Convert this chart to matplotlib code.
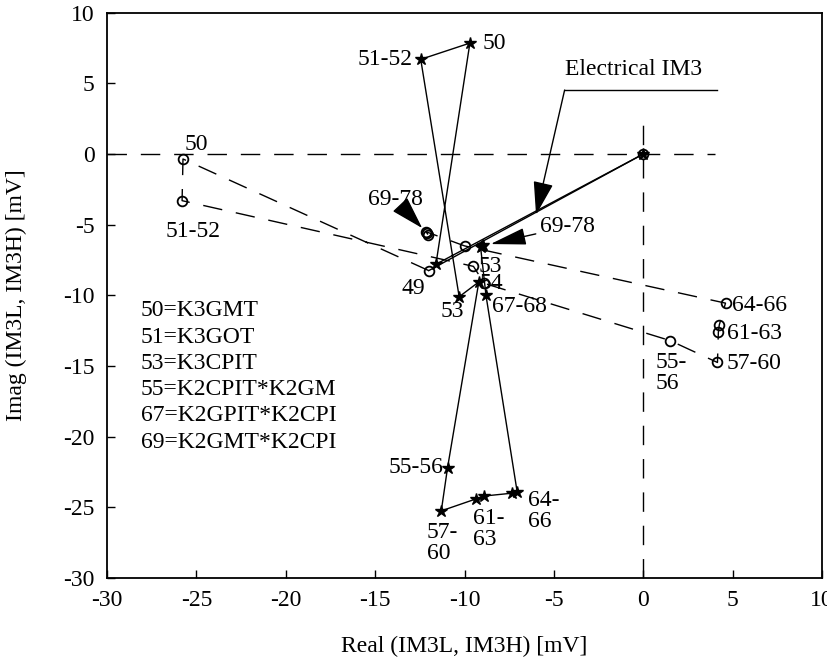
import matplotlib
matplotlib.use("Agg")
import matplotlib.pyplot as plt

plt.rcParams['font.family'] = ['Liberation Serif', 'DejaVu Serif']
plt.rcParams['font.size'] = 17
plt.rcParams['axes.unicode_minus'] = False

# cumulative IM3 vectors [mV], starting at the origin
# star (solid) and circle (dashed) series
star_x = [0.0, -11.6, -9.7, -12.45, -10.3, -9.2, -10.95, -11.3, -9.35, -8.9, -7.35, -7.05, -8.8, -9.1, -9.0, -8.95]
star_y = [0.0, -7.8, 7.85, 6.7, -10.1, -9.05, -22.2, -25.25, -24.4, -24.2, -24.0, -23.95, -10.0, -6.6, -6.5, -6.45]
circ_x = [0.0, -12.0, -25.75, -25.8, -9.5, -8.9, 1.5, 4.15, 4.2, 4.25, 4.6, -10.0, -12.15, -12.1, -12.05]
circ_y = [0.0, -8.25, -0.35, -3.3, -7.95, -9.15, -13.2, -14.75, -12.6, -12.1, -10.55, -6.5, -5.5, -5.6, -5.7]

legend_lines = ["50=K3GMT", "51=K3GOT", "53=K3CPIT", "55=K2CPIT*K2GM",
                "67=K2GPIT*K2CPI", "69=K2GMT*K2CPI"]

# point labels: (index, text, dx px, dy px (down), ha, va)
star_labels = [
    (1, "49", -22.5, 24.3, 'center', 'center'),
    (2, "50", 13, 0, 'left', 'center'),
    (3, "51-52", -8, 0, 'right', 'center'),
    (4, "53", -6.7, 15, 'center', 'center'),
    (6, "55-56", -4.6, 0, 'right', 'center'),
    (7, "57-\n60", -14.4, 11.2, 'left', 'top'),
    (8, "61-\n63", -3.2, 9.2, 'left', 'top'),
    (11, "64-\n66", 10.7, -2.4, 'left', 'top'),
    (12, "67-68", 6, 10.7, 'left', 'center'),
]
circ_labels = [
    (2, "50", 13, -14.4, 'center', 'center'),
    (3, "51-52", 11.2, 31, 'center', 'center'),
    (4, "53", 16.5, 0, 'center', 'center'),
    (5, "54", 6.7, 0, 'center', 'center'),
    (6, "55-\n56", -15, 11.5, 'left', 'top'),
    (7, "57-60", 9.2, 1, 'left', 'center'),
    (8, "61-63", 8.3, 1.5, 'left', 'center'),
    (10, "64-66", 6.2, 2, 'left', 'center'),
]

PT = 0.72  # px -> pt at dpi 100
dash = (0, (14, 10))

fig = plt.figure(figsize=(8.27, 6.62), dpi=100)
ax = fig.add_axes([0.1294, 0.1269, 0.8646, 0.8539])

# reference axes through origin
ax.hlines(0, -30, 4.0, colors='black', lw=1, linestyles=[dash])
ax.vlines(0, -30, 2.3, colors='black', lw=1, linestyles=[dash])

# electrical IM3 vector (first segment) solid for both series
ax.plot(circ_x[:2], circ_y[:2], color='black', lw=1)
ax.plot(circ_x[1:], circ_y[1:], color='black', lw=1, linestyle=dash)
ax.plot(circ_x, circ_y, linestyle='none', marker='o', ms=7, mfc='none',
        mec='black', mew=1.3)
ax.plot(star_x, star_y, color='black', lw=1, marker='*', ms=9,
        mfc='black', mec='black')

for i, txt, dx, dy, ha, va in star_labels:
    ax.annotate(txt, (star_x[i], star_y[i]), xytext=(dx * PT, -dy * PT),
                textcoords='offset points', ha=ha, va=va, linespacing=1.0)
for i, txt, dx, dy, ha, va in circ_labels:
    ax.annotate(txt, (circ_x[i], circ_y[i]), xytext=(dx * PT, -dy * PT),
                textcoords='offset points', ha=ha, va=va, linespacing=1.0)

# arrowed labels for the final 69-78 points
ax.annotate("69-78", (star_x[14], star_y[14]), xytext=(57.5 * PT, 19.1 * PT),
            textcoords='offset points', ha='left', va='center',
            arrowprops=dict(arrowstyle='-|>,head_length=1.6,head_width=0.38',
                            color='black', lw=1, shrinkA=1, shrinkB=6,
                            mutation_scale=14))
ax.annotate("69-78", (circ_x[13], circ_y[13]), xytext=(-32 * PT, 34 * PT),
            textcoords='offset points', ha='center', va='center',
            arrowprops=dict(arrowstyle='-|>,head_length=1.5,head_width=0.45',
                            color='black', lw=1, shrinkA=1, shrinkB=5,
                            mutation_scale=14))

# Electrical IM3 leader
ax.text(-4.4, 6.0, "Electrical IM3", ha='left', va='center')
ax.plot([-4.4, 4.1], [4.53, 4.53], color='black', lw=1)
ax.annotate("", (-6.0, -4.3), xytext=(-4.4, 4.53),
            arrowprops=dict(arrowstyle='-|>,head_length=1.5,head_width=0.45',
                            color='black', lw=1, shrinkA=0, shrinkB=0,
                            mutation_scale=14))

ax.text(-28.1, -10.35, "\n".join(legend_lines), ha='left', va='top',
        linespacing=1.33)

ax.set_xlim(-30, 10)
ax.set_ylim(-30, 10)
ax.set_xticks(range(-30, 11, 5))
ax.set_yticks(range(-30, 11, 5))
ax.tick_params(direction='in', length=6, width=1, pad=9)
for s in ax.spines.values():
    s.set_linewidth(1.3)

ax.set_xlabel("Real (IM3L, IM3H) [mV]")
ax.set_ylabel("Imag (IM3L, IM3H) [mV]")
ax.xaxis.set_label_coords(0.5, -0.102)
ax.yaxis.set_label_coords(-0.112, 0.5)

fig.savefig("out.png", dpi=100)
